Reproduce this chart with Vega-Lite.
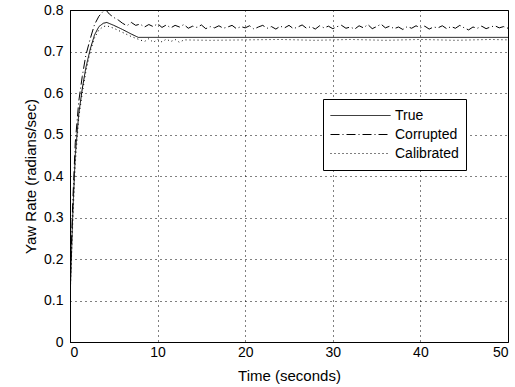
{
  "$schema": "https://vega.github.io/schema/vega-lite/v6.json",
  "width": 438,
  "height": 332,
  "autosize": {"type": "none"},
  "padding": {"left": 70, "top": 10, "right": 7, "bottom": 45},
  "background": "white",
  "config": {
    "font": "Liberation Sans",
    "view": {"stroke": "black", "strokeWidth": 1},
    "axis": {
      "labelFont": "Liberation Sans", "labelFontSize": 14, "labelColor": "black",
      "titleFont": "Liberation Sans", "titleFontSize": 15, "titleFontWeight": "normal", "titleColor": "black",
      "domainColor": "black", "ticks": false,
      "grid": true, "gridColor": "black", "gridDash": [1, 4], "gridOpacity": 1, "gridWidth": 1
    }
  },
  "data": {"values": [
    {"t": 0, "v": 0.1, "s": "True"},
    {"t": 0.3, "v": 0.3, "s": "True"},
    {"t": 0.6, "v": 0.45, "s": "True"},
    {"t": 1.0, "v": 0.55, "s": "True"},
    {"t": 1.4, "v": 0.61, "s": "True"},
    {"t": 1.8, "v": 0.66, "s": "True"},
    {"t": 2.3, "v": 0.705, "s": "True"},
    {"t": 2.8, "v": 0.74, "s": "True"},
    {"t": 3.3, "v": 0.76, "s": "True"},
    {"t": 3.8, "v": 0.768, "s": "True"},
    {"t": 4.2, "v": 0.77, "s": "True"},
    {"t": 5, "v": 0.763, "s": "True"},
    {"t": 6, "v": 0.753, "s": "True"},
    {"t": 7, "v": 0.742, "s": "True"},
    {"t": 7.8, "v": 0.734, "s": "True"},
    {"t": 50, "v": 0.734, "s": "True"},

    {"t": 0, "v": 0.12, "s": "Corrupted"},
    {"t": 0.3, "v": 0.33, "s": "Corrupted"},
    {"t": 0.6, "v": 0.48, "s": "Corrupted"},
    {"t": 1.0, "v": 0.58, "s": "Corrupted"},
    {"t": 1.4, "v": 0.64, "s": "Corrupted"},
    {"t": 1.8, "v": 0.69, "s": "Corrupted"},
    {"t": 2.3, "v": 0.73, "s": "Corrupted"},
    {"t": 2.8, "v": 0.765, "s": "Corrupted"},
    {"t": 3.3, "v": 0.785, "s": "Corrupted"},
    {"t": 3.8, "v": 0.797, "s": "Corrupted"},
    {"t": 4.1, "v": 0.8, "s": "Corrupted"},
    {"t": 4.5, "v": 0.79, "s": "Corrupted"},
    {"t": 5, "v": 0.782, "s": "Corrupted"},
    {"t": 5.5, "v": 0.776, "s": "Corrupted"},
    {"t": 6, "v": 0.768, "s": "Corrupted"},
    {"t": 6.5, "v": 0.762, "s": "Corrupted"},
    {"t": 7, "v": 0.77, "s": "Corrupted"},
    {"t": 7.5, "v": 0.763, "s": "Corrupted"},
    {"t": 8, "v": 0.766, "s": "Corrupted"},
    {"t": 8.5, "v": 0.759, "s": "Corrupted"},
    {"t": 9, "v": 0.765, "s": "Corrupted"},
    {"t": 9.5, "v": 0.76, "s": "Corrupted"},
    {"t": 10, "v": 0.767, "s": "Corrupted"},
    {"t": 10.5, "v": 0.758, "s": "Corrupted"},
    {"t": 11, "v": 0.764, "s": "Corrupted"},
    {"t": 11.5, "v": 0.757, "s": "Corrupted"},
    {"t": 12, "v": 0.763, "s": "Corrupted"},
    {"t": 12.5, "v": 0.759, "s": "Corrupted"},
    {"t": 13, "v": 0.765, "s": "Corrupted"},
    {"t": 13.5, "v": 0.756, "s": "Corrupted"},
    {"t": 14, "v": 0.761, "s": "Corrupted"},
    {"t": 14.5, "v": 0.758, "s": "Corrupted"},
    {"t": 15, "v": 0.764, "s": "Corrupted"},
    {"t": 15.5, "v": 0.755, "s": "Corrupted"},
    {"t": 16, "v": 0.76, "s": "Corrupted"},
    {"t": 16.5, "v": 0.757, "s": "Corrupted"},
    {"t": 17, "v": 0.762, "s": "Corrupted"},
    {"t": 17.5, "v": 0.756, "s": "Corrupted"},
    {"t": 18, "v": 0.759, "s": "Corrupted"},
    {"t": 18.5, "v": 0.763, "s": "Corrupted"},
    {"t": 19, "v": 0.755, "s": "Corrupted"},
    {"t": 19.5, "v": 0.76, "s": "Corrupted"},
    {"t": 20, "v": 0.757, "s": "Corrupted"},
    {"t": 20.5, "v": 0.762, "s": "Corrupted"},
    {"t": 21, "v": 0.754, "s": "Corrupted"},
    {"t": 21.5, "v": 0.759, "s": "Corrupted"},
    {"t": 22, "v": 0.763, "s": "Corrupted"},
    {"t": 22.5, "v": 0.756, "s": "Corrupted"},
    {"t": 23, "v": 0.76, "s": "Corrupted"},
    {"t": 23.5, "v": 0.754, "s": "Corrupted"},
    {"t": 24, "v": 0.761, "s": "Corrupted"},
    {"t": 24.5, "v": 0.757, "s": "Corrupted"},
    {"t": 25, "v": 0.763, "s": "Corrupted"},
    {"t": 25.5, "v": 0.755, "s": "Corrupted"},
    {"t": 26, "v": 0.759, "s": "Corrupted"},
    {"t": 26.5, "v": 0.764, "s": "Corrupted"},
    {"t": 27, "v": 0.756, "s": "Corrupted"},
    {"t": 27.5, "v": 0.76, "s": "Corrupted"},
    {"t": 28, "v": 0.754, "s": "Corrupted"},
    {"t": 28.5, "v": 0.762, "s": "Corrupted"},
    {"t": 29, "v": 0.757, "s": "Corrupted"},
    {"t": 29.5, "v": 0.761, "s": "Corrupted"},
    {"t": 30, "v": 0.755, "s": "Corrupted"},
    {"t": 30.5, "v": 0.76, "s": "Corrupted"},
    {"t": 31, "v": 0.763, "s": "Corrupted"},
    {"t": 31.5, "v": 0.756, "s": "Corrupted"},
    {"t": 32, "v": 0.759, "s": "Corrupted"},
    {"t": 32.5, "v": 0.754, "s": "Corrupted"},
    {"t": 33, "v": 0.762, "s": "Corrupted"},
    {"t": 33.5, "v": 0.757, "s": "Corrupted"},
    {"t": 34, "v": 0.765, "s": "Corrupted"},
    {"t": 34.5, "v": 0.755, "s": "Corrupted"},
    {"t": 35, "v": 0.76, "s": "Corrupted"},
    {"t": 35.5, "v": 0.766, "s": "Corrupted"},
    {"t": 36, "v": 0.757, "s": "Corrupted"},
    {"t": 36.5, "v": 0.761, "s": "Corrupted"},
    {"t": 37, "v": 0.755, "s": "Corrupted"},
    {"t": 37.5, "v": 0.759, "s": "Corrupted"},
    {"t": 38, "v": 0.753, "s": "Corrupted"},
    {"t": 38.5, "v": 0.76, "s": "Corrupted"},
    {"t": 39, "v": 0.756, "s": "Corrupted"},
    {"t": 39.5, "v": 0.762, "s": "Corrupted"},
    {"t": 40, "v": 0.757, "s": "Corrupted"},
    {"t": 40.5, "v": 0.761, "s": "Corrupted"},
    {"t": 41, "v": 0.754, "s": "Corrupted"},
    {"t": 41.5, "v": 0.759, "s": "Corrupted"},
    {"t": 42, "v": 0.757, "s": "Corrupted"},
    {"t": 42.5, "v": 0.762, "s": "Corrupted"},
    {"t": 43, "v": 0.755, "s": "Corrupted"},
    {"t": 43.5, "v": 0.76, "s": "Corrupted"},
    {"t": 44, "v": 0.756, "s": "Corrupted"},
    {"t": 44.5, "v": 0.763, "s": "Corrupted"},
    {"t": 45, "v": 0.757, "s": "Corrupted"},
    {"t": 45.5, "v": 0.752, "s": "Corrupted"},
    {"t": 46, "v": 0.759, "s": "Corrupted"},
    {"t": 46.5, "v": 0.756, "s": "Corrupted"},
    {"t": 47, "v": 0.761, "s": "Corrupted"},
    {"t": 47.5, "v": 0.755, "s": "Corrupted"},
    {"t": 48, "v": 0.759, "s": "Corrupted"},
    {"t": 48.5, "v": 0.762, "s": "Corrupted"},
    {"t": 49, "v": 0.757, "s": "Corrupted"},
    {"t": 49.5, "v": 0.76, "s": "Corrupted"},
    {"t": 50, "v": 0.756, "s": "Corrupted"},

    {"t": 0, "v": 0.1, "s": "Calibrated"},
    {"t": 0.3, "v": 0.28, "s": "Calibrated"},
    {"t": 0.6, "v": 0.43, "s": "Calibrated"},
    {"t": 1.0, "v": 0.54, "s": "Calibrated"},
    {"t": 1.4, "v": 0.6, "s": "Calibrated"},
    {"t": 1.8, "v": 0.65, "s": "Calibrated"},
    {"t": 2.3, "v": 0.7, "s": "Calibrated"},
    {"t": 2.8, "v": 0.733, "s": "Calibrated"},
    {"t": 3.3, "v": 0.752, "s": "Calibrated"},
    {"t": 3.8, "v": 0.76, "s": "Calibrated"},
    {"t": 4.2, "v": 0.762, "s": "Calibrated"},
    {"t": 5, "v": 0.756, "s": "Calibrated"},
    {"t": 6, "v": 0.746, "s": "Calibrated"},
    {"t": 7, "v": 0.736, "s": "Calibrated"},
    {"t": 8, "v": 0.728, "s": "Calibrated"},
    {"t": 8.5, "v": 0.724, "s": "Calibrated"},
    {"t": 9, "v": 0.731, "s": "Calibrated"},
    {"t": 9.5, "v": 0.722, "s": "Calibrated"},
    {"t": 10, "v": 0.729, "s": "Calibrated"},
    {"t": 10.5, "v": 0.723, "s": "Calibrated"},
    {"t": 11, "v": 0.73, "s": "Calibrated"},
    {"t": 11.5, "v": 0.724, "s": "Calibrated"},
    {"t": 12, "v": 0.729, "s": "Calibrated"},
    {"t": 12.5, "v": 0.722, "s": "Calibrated"},
    {"t": 13, "v": 0.728, "s": "Calibrated"},
    {"t": 16, "v": 0.727, "s": "Calibrated"},
    {"t": 20, "v": 0.728, "s": "Calibrated"},
    {"t": 24, "v": 0.729, "s": "Calibrated"},
    {"t": 28, "v": 0.727, "s": "Calibrated"},
    {"t": 32, "v": 0.729, "s": "Calibrated"},
    {"t": 36, "v": 0.727, "s": "Calibrated"},
    {"t": 40, "v": 0.729, "s": "Calibrated"},
    {"t": 44, "v": 0.727, "s": "Calibrated"},
    {"t": 48, "v": 0.729, "s": "Calibrated"},
    {"t": 50, "v": 0.728, "s": "Calibrated"}
  ]},
  "mark": {"type": "line", "color": "black", "strokeWidth": 1, "clip": true},
  "encoding": {
    "x": {"field": "t", "type": "quantitative", "title": "Time (seconds)",
      "scale": {"domain": [0, 50], "nice": false},
      "axis": {"values": [0, 10, 20, 30, 40, 50], "labelPadding": 3, "titlePadding": 9}},
    "y": {"field": "v", "type": "quantitative", "title": "Yaw Rate (radians/sec)",
      "scale": {"domain": [0, 0.8], "nice": false, "zero": false},
      "axis": {"values": [0, 0.1, 0.2, 0.3, 0.4, 0.5, 0.6, 0.7, 0.8], "format": ".1~f", "labelPadding": 7, "titlePadding": 5}},
    "strokeDash": {"field": "s", "type": "nominal", "title": null,
      "scale": {"domain": ["True", "Corrupted", "Calibrated"], "range": [[1, 0], [9, 3, 1, 3], [1, 3]]},
      "legend": {"orient": "none", "legendX": 253, "legendY": 89,
        "symbolType": "stroke", "symbolSize": 3600, "symbolStrokeColor": "black", "symbolStrokeWidth": 1,
        "labelFont": "Liberation Sans", "labelFontSize": 14, "labelColor": "black", "labelOffset": 4,
        "clipHeight": 19, "strokeColor": "black", "fillColor": "white", "padding": 7, "rowPadding": 0, "symbolOffset": 0}}
  }
}
